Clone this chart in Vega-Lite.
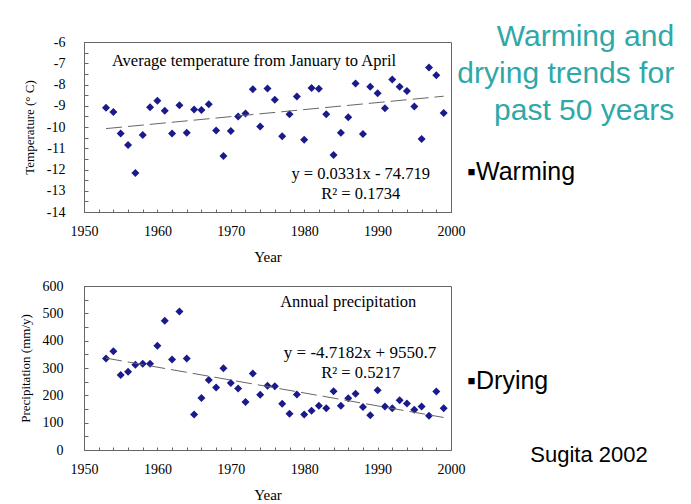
{
  "$schema": "https://vega.github.io/schema/vega-lite/v6.json",
  "padding": {"left": 18, "top": 21, "right": 5, "bottom": 0},
  "background": "white",
  "spacing": 13,
  "config": {
    "view": {"stroke": "#666666", "strokeWidth": 1},
    "font": "Liberation Serif",
    "axis": {
      "labelFont": "Liberation Serif",
      "titleFont": "Liberation Serif",
      "labelColor": "#000000",
      "titleColor": "#000000",
      "titleFontWeight": "normal",
      "domainColor": "#666666",
      "tickColor": "#666666",
      "grid": false,
      "labelFontSize": 14,
      "labelFlush": false,
      "labelOverlap": false
    }
  },
  "vconcat": [
    {
      "width": 367,
      "height": 170,
      "data": {"values": [
        {"Year": 1953, "Temp": -9.09}, {"Year": 1954, "Temp": -9.29}, {"Year": 1955, "Temp": -10.31},
        {"Year": 1956, "Temp": -10.85}, {"Year": 1957, "Temp": -12.17}, {"Year": 1958, "Temp": -10.38},
        {"Year": 1959, "Temp": -9.07}, {"Year": 1960, "Temp": -8.77}, {"Year": 1961, "Temp": -9.24},
        {"Year": 1962, "Temp": -10.30}, {"Year": 1963, "Temp": -8.98}, {"Year": 1964, "Temp": -10.27},
        {"Year": 1965, "Temp": -9.18}, {"Year": 1966, "Temp": -9.20}, {"Year": 1967, "Temp": -8.93},
        {"Year": 1968, "Temp": -10.16}, {"Year": 1969, "Temp": -11.37}, {"Year": 1970, "Temp": -10.19},
        {"Year": 1971, "Temp": -9.51}, {"Year": 1972, "Temp": -9.37}, {"Year": 1973, "Temp": -8.22},
        {"Year": 1974, "Temp": -9.98}, {"Year": 1975, "Temp": -8.19}, {"Year": 1976, "Temp": -8.72},
        {"Year": 1977, "Temp": -10.43}, {"Year": 1978, "Temp": -9.40}, {"Year": 1979, "Temp": -8.57},
        {"Year": 1980, "Temp": -10.60}, {"Year": 1981, "Temp": -8.16}, {"Year": 1982, "Temp": -8.20},
        {"Year": 1983, "Temp": -9.40}, {"Year": 1984, "Temp": -11.32}, {"Year": 1985, "Temp": -10.27},
        {"Year": 1986, "Temp": -9.54}, {"Year": 1987, "Temp": -7.95}, {"Year": 1988, "Temp": -10.33},
        {"Year": 1989, "Temp": -8.11}, {"Year": 1990, "Temp": -8.41}, {"Year": 1991, "Temp": -9.12},
        {"Year": 1992, "Temp": -7.76}, {"Year": 1993, "Temp": -8.11}, {"Year": 1994, "Temp": -8.30},
        {"Year": 1995, "Temp": -9.04}, {"Year": 1996, "Temp": -10.57}, {"Year": 1997, "Temp": -7.20},
        {"Year": 1998, "Temp": -7.56}, {"Year": 1999, "Temp": -9.34}
      ]},
      "layer": [
        {
          "mark": {"type": "point", "shape": "diamond", "filled": true, "size": 64, "color": "#1a1a8a", "opacity": 1},
          "encoding": {
            "x": {"field": "Year", "type": "quantitative",
              "scale": {"domain": [1950, 2000], "nice": false, "zero": false},
              "axis": {"title": "Year", "titleFontSize": 15, "titlePadding": 11,
                "values": [1950,1952,1954,1956,1958,1960,1962,1964,1966,1968,1970,1972,1974,1976,1978,1980,1982,1984,1986,1988,1990,1992,1994,1996,1998,2000],
                "tickCount": 100,
                "labelExpr": "datum.value % 10 === 0 ? '' + datum.value : ''",
                "labelOverlap": false, "labelFlush": false,
                "tickSize": -3, "labelPadding": 15}},
            "y": {"field": "Temp", "type": "quantitative",
              "scale": {"domain": [-14, -6], "nice": false, "zero": false},
              "axis": {"title": "Temperature (° C)", "titleFontSize": 13, "titlePadding": 10,
                "values": [-14,-13.5,-13,-12.5,-12,-11.5,-11,-10.5,-10,-9.5,-9,-8.5,-8,-7.5,-7,-6.5,-6],
                "tickCount": 100,
                "labelExpr": "datum.value % 1 === 0 ? '' + datum.value : ''",
                "labelOverlap": false, "labelFlush": false,
                "tickSize": -4, "labelPadding": 23}}
          }
        },
        {
          "data": {"values": [{"Year": 1953, "Temp": -10.075}, {"Year": 1999, "Temp": -8.552}]},
          "mark": {"type": "line", "color": "#666666", "strokeWidth": 1, "strokeDash": [16, 6]},
          "encoding": {"x": {"field": "Year", "type": "quantitative"}, "y": {"field": "Temp", "type": "quantitative"}}
        },
        {
          "data": {"values": [{}]},
          "mark": {"type": "text", "text": "Average temperature from January to April", "align": "left", "baseline": "middle", "fontSize": 16.5, "font": "Liberation Serif", "color": "#000000"},
          "encoding": {"x": {"datum": 1953.8, "type": "quantitative"}, "y": {"datum": -6.88, "type": "quantitative"}}
        },
        {
          "data": {"values": [{}]},
          "mark": {"type": "text", "text": "y = 0.0331x - 74.719", "align": "center", "baseline": "middle", "fontSize": 16.5, "font": "Liberation Serif", "color": "#000000"},
          "encoding": {"x": {"datum": 1987.7, "type": "quantitative"}, "y": {"datum": -12.2, "type": "quantitative"}}
        },
        {
          "data": {"values": [{}]},
          "mark": {"type": "text", "text": "R² = 0.1734", "align": "center", "baseline": "middle", "fontSize": 16.5, "font": "Liberation Serif", "color": "#000000"},
          "encoding": {"x": {"datum": 1987.7, "type": "quantitative"}, "y": {"datum": -13.15, "type": "quantitative"}}
        },
        {
          "data": {"values": [{}]},
          "mark": {"type": "text", "text": ["Warming and", "drying trends for", "past 50 years"], "align": "right", "baseline": "alphabetic", "fontSize": 30, "lineHeight": 37, "font": "Liberation Sans", "color": "#2ea8a8"},
          "encoding": {"x": {"datum": 2030.4, "type": "quantitative"}, "y": {"datum": -6.19, "type": "quantitative"}}
        },
        {
          "data": {"values": [{}]},
          "mark": {"type": "text", "text": "▪Warming", "align": "left", "baseline": "alphabetic", "fontSize": 25, "font": "Liberation Sans", "color": "#000000"},
          "encoding": {"x": {"datum": 2002.2, "type": "quantitative"}, "y": {"datum": -12.5, "type": "quantitative"}}
        }
      ]
    },
    {
      "width": 367,
      "height": 164,
      "data": {"values": [
        {"Year": 1953, "Precip": 335}, {"Year": 1954, "Precip": 361}, {"Year": 1955, "Precip": 274},
        {"Year": 1956, "Precip": 286}, {"Year": 1957, "Precip": 312}, {"Year": 1958, "Precip": 316},
        {"Year": 1959, "Precip": 316}, {"Year": 1960, "Precip": 381}, {"Year": 1961, "Precip": 473},
        {"Year": 1962, "Precip": 331}, {"Year": 1963, "Precip": 507}, {"Year": 1964, "Precip": 335},
        {"Year": 1965, "Precip": 130}, {"Year": 1966, "Precip": 190}, {"Year": 1967, "Precip": 256},
        {"Year": 1968, "Precip": 229}, {"Year": 1969, "Precip": 299}, {"Year": 1970, "Precip": 245},
        {"Year": 1971, "Precip": 225}, {"Year": 1972, "Precip": 176}, {"Year": 1973, "Precip": 280},
        {"Year": 1974, "Precip": 202}, {"Year": 1975, "Precip": 235}, {"Year": 1976, "Precip": 233},
        {"Year": 1977, "Precip": 169}, {"Year": 1978, "Precip": 133}, {"Year": 1979, "Precip": 203},
        {"Year": 1980, "Precip": 130}, {"Year": 1981, "Precip": 144}, {"Year": 1982, "Precip": 162},
        {"Year": 1983, "Precip": 153}, {"Year": 1984, "Precip": 215}, {"Year": 1985, "Precip": 162},
        {"Year": 1986, "Precip": 189}, {"Year": 1987, "Precip": 206}, {"Year": 1988, "Precip": 157},
        {"Year": 1989, "Precip": 127}, {"Year": 1990, "Precip": 219}, {"Year": 1991, "Precip": 159},
        {"Year": 1992, "Precip": 153}, {"Year": 1993, "Precip": 182}, {"Year": 1994, "Precip": 170},
        {"Year": 1995, "Precip": 147}, {"Year": 1996, "Precip": 159}, {"Year": 1997, "Precip": 125},
        {"Year": 1998, "Precip": 214}, {"Year": 1999, "Precip": 153}
      ]},
      "layer": [
        {
          "mark": {"type": "point", "shape": "diamond", "filled": true, "size": 64, "color": "#1a1a8a", "opacity": 1},
          "encoding": {
            "x": {"field": "Year", "type": "quantitative",
              "scale": {"domain": [1950, 2000], "nice": false, "zero": false},
              "axis": {"title": "Year", "titleFontSize": 15, "titlePadding": 11,
                "values": [1950,1952,1954,1956,1958,1960,1962,1964,1966,1968,1970,1972,1974,1976,1978,1980,1982,1984,1986,1988,1990,1992,1994,1996,1998,2000],
                "tickCount": 100,
                "labelExpr": "datum.value % 10 === 0 ? '' + datum.value : ''",
                "labelOverlap": false, "labelFlush": false,
                "tickSize": -3, "labelPadding": 15}},
            "y": {"field": "Precip", "type": "quantitative",
              "scale": {"domain": [0, 600], "nice": false},
              "axis": {"title": "Precipitation (mm/y)", "titleFontSize": 13, "titlePadding": 10,
                "values": [0,50,100,150,200,250,300,350,400,450,500,550,600],
                "tickCount": 100,
                "labelExpr": "datum.value % 100 === 0 ? '' + datum.value : ''",
                "labelOverlap": false, "labelFlush": false,
                "tickSize": -4, "labelPadding": 25}}
          }
        },
        {
          "data": {"values": [{"Year": 1953, "Precip": 336.1}, {"Year": 1999, "Precip": 119.0}]},
          "mark": {"type": "line", "color": "#666666", "strokeWidth": 1, "strokeDash": [16, 6]},
          "encoding": {"x": {"field": "Year", "type": "quantitative"}, "y": {"field": "Precip", "type": "quantitative"}}
        },
        {
          "data": {"values": [{}]},
          "mark": {"type": "text", "text": "Annual precipitation", "align": "center", "baseline": "middle", "fontSize": 16.5, "font": "Liberation Serif", "color": "#000000"},
          "encoding": {"x": {"datum": 1986.0, "type": "quantitative"}, "y": {"datum": 543, "type": "quantitative"}}
        },
        {
          "data": {"values": [{}]},
          "mark": {"type": "text", "text": "y = -4.7182x + 9550.7", "align": "center", "baseline": "middle", "fontSize": 17, "font": "Liberation Serif", "color": "#000000"},
          "encoding": {"x": {"datum": 1987.6, "type": "quantitative"}, "y": {"datum": 355, "type": "quantitative"}}
        },
        {
          "data": {"values": [{}]},
          "mark": {"type": "text", "text": "R² = 0.5217", "align": "center", "baseline": "middle", "fontSize": 16.5, "font": "Liberation Serif", "color": "#000000"},
          "encoding": {"x": {"datum": 1987.7, "type": "quantitative"}, "y": {"datum": 282, "type": "quantitative"}}
        },
        {
          "data": {"values": [{}]},
          "mark": {"type": "text", "text": "▪Drying", "align": "left", "baseline": "alphabetic", "fontSize": 25, "font": "Liberation Sans", "color": "#000000"},
          "encoding": {"x": {"datum": 2002.2, "type": "quantitative"}, "y": {"datum": 223, "type": "quantitative"}}
        },
        {
          "data": {"values": [{}]},
          "mark": {"type": "text", "text": "Sugita 2002", "align": "left", "baseline": "alphabetic", "fontSize": 22, "font": "Liberation Sans", "color": "#000000"},
          "encoding": {"x": {"datum": 2010.8, "type": "quantitative"}, "y": {"datum": -45, "type": "quantitative"}}
        }
      ]
    }
  ]
}
